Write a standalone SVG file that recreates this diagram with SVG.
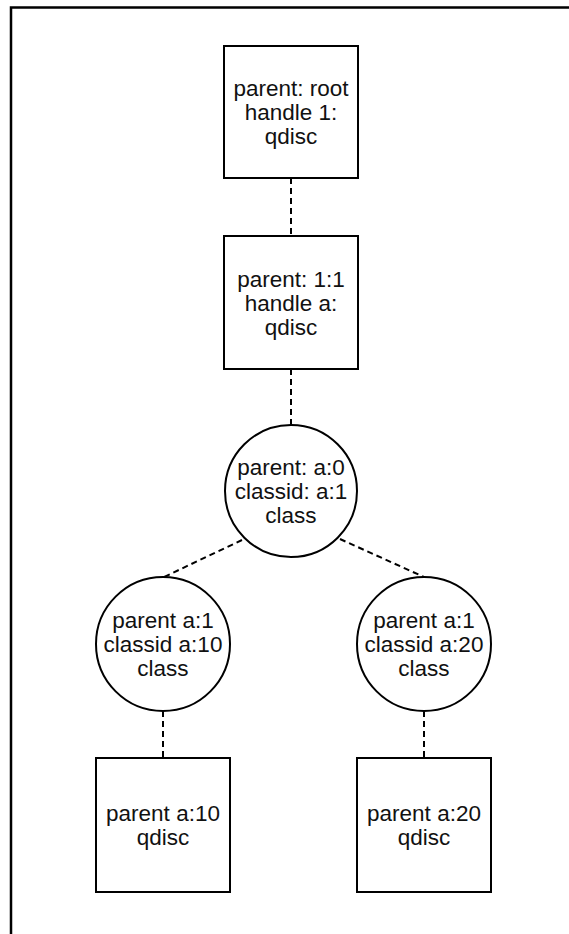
<svg xmlns="http://www.w3.org/2000/svg" width="569" height="934" viewBox="0 0 569 934">
  <style>
    .shape { fill: #ffffff; stroke: #000000; stroke-width: 2; }
    .frame { fill: none; stroke: #000000; stroke-width: 2.5; }
    .link { fill: none; stroke: #000000; stroke-width: 2; stroke-dasharray: 6 4; }
    .label { font-family: "Liberation Sans", Arial, Helvetica, sans-serif; font-size: 22.5px; fill: #111111; text-anchor: middle; }
  </style>

  <!-- outer frame, running past the right and bottom edges -->
  <rect class="frame" x="11" y="7.5" width="600" height="960"/>

  <g id="connectors">
    <line class="link" x1="291" y1="178" x2="291" y2="236"/>
    <line class="link" x1="291" y1="369" x2="291" y2="425"/>
    <line class="link" x1="242" y1="540" x2="164" y2="577"/>
    <line class="link" x1="340" y1="539" x2="424" y2="577"/>
    <line class="link" x1="163" y1="711" x2="163" y2="758"/>
    <line class="link" x1="424" y1="711" x2="424" y2="758"/>
  </g>

  <g id="root-qdisc">
    <rect class="shape" x="224" y="46" width="134" height="132"/>
    <text class="label" x="291" y="96">parent: root</text>
    <text class="label" x="291" y="120">handle 1:</text>
    <text class="label" x="291" y="144">qdisc</text>
  </g>

  <g id="qdisc-a">
    <rect class="shape" x="224" y="236" width="134" height="133"/>
    <text class="label" x="291" y="286.5">parent: 1:1</text>
    <text class="label" x="291" y="310.5">handle a:</text>
    <text class="label" x="291" y="334.5">qdisc</text>
  </g>

  <g id="class-a1">
    <circle class="shape" cx="291" cy="491" r="66"/>
    <text class="label" x="291" y="475">parent: a:0</text>
    <text class="label" x="291" y="499">classid: a:1</text>
    <text class="label" x="291" y="523">class</text>
  </g>

  <g id="class-a10">
    <circle class="shape" cx="163" cy="644" r="67"/>
    <text class="label" x="163" y="628">parent a:1</text>
    <text class="label" x="163" y="652">classid a:10</text>
    <text class="label" x="163" y="676">class</text>
  </g>

  <g id="class-a20">
    <circle class="shape" cx="424" cy="644" r="67"/>
    <text class="label" x="424" y="628">parent a:1</text>
    <text class="label" x="424" y="652">classid a:20</text>
    <text class="label" x="424" y="676">class</text>
  </g>

  <g id="qdisc-a10">
    <rect class="shape" x="96" y="758" width="134" height="134"/>
    <text class="label" x="163" y="821">parent a:10</text>
    <text class="label" x="163" y="845">qdisc</text>
  </g>

  <g id="qdisc-a20">
    <rect class="shape" x="357" y="758" width="134" height="134"/>
    <text class="label" x="424" y="821">parent a:20</text>
    <text class="label" x="424" y="845">qdisc</text>
  </g>
</svg>
